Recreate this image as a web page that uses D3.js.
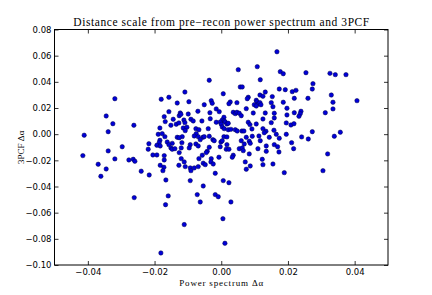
<!DOCTYPE html>
<html>
<head>
<meta charset="utf-8">
<script src="https://cdn.jsdelivr.net/npm/d3@7"></script>
<style>
  body { margin: 0; background: #fff; }
  svg { display: block; }
</style>
</head>
<body>
<script>
// power spectrum delta alpha
const alphaPk = [
  -0.0319, -0.0180, -0.0345, -0.0171, -0.0168, -0.0325, -0.0262, -0.0184, -0.0339, -0.0411,
  -0.0189, -0.0177, -0.0169, -0.0184, -0.0186, -0.0217, -0.0193, -0.0183, -0.0297, -0.0219,
  -0.0339, -0.0415, -0.0205, -0.0193, -0.0171, -0.0319, -0.0277, -0.0264, -0.0259, -0.0171,
  -0.0369, -0.0183, -0.0172, -0.0345, -0.0175, -0.0240, -0.0361, -0.0216, -0.0166, -0.0261,
  0.0051, 0.0108, -0.0036, 0.0117, 0.0057, 0.0063, -0.0109, 0.0006, 0.0132, -0.0157,
  0.0116, 0.0125, 0.0153, 0.0081, 0.0078, 0.0105, -0.0132, -0.0097, -0.0030, -0.0027,
  0.0027, 0.0047, 0.0023, -0.0051, 0.0107, 0.0111, 0.0099, 0.0105, 0.0116, 0.0119,
  0.0150, 0.0155, -0.0015, 0.0075, -0.0157, -0.0123, -0.0070, -0.0034, -0.0006, 0.0036,
  0.0042, 0.0047, 0.0054, 0.0060, 0.0096, 0.0132, 0.0159, -0.0144, -0.0126, -0.0121,
  -0.0099, -0.0033, 0.0008, 0.0003, 0.0009, 0.0125, 0.0159, -0.0135, -0.0127, -0.0112,
  -0.0109, -0.0091, -0.0084, -0.0058, -0.0015, -0.0003, 0.0000, 0.0012, 0.0017, 0.0021,
  0.0081, 0.0086, 0.0105, 0.0150, -0.0151, -0.0114, -0.0103, -0.0108, -0.0076, -0.0067,
  -0.0039, 0.0003, 0.0009, 0.0021, 0.0029, 0.0042, 0.0048, 0.0062, 0.0068, 0.0092,
  0.0125, 0.0134, 0.0129, 0.0158, -0.0075, -0.0081, -0.0069, -0.0117, -0.0132, -0.0126,
  -0.0055, -0.0051, 0.0008, 0.0017, -0.0036, 0.0075, 0.0093, 0.0113, 0.0144,
  -0.0162, -0.0147, -0.0157, -0.0151, -0.0147, -0.0139, -0.0118, -0.0120, -0.0093, -0.0096,
  -0.0076, -0.0069, -0.0063, -0.0025, -0.0021, -0.0001, 0.0003, -0.0003, 0.0017, 0.0015,
  0.0023, -0.0036, -0.0042, -0.0045, -0.0057, 0.0060, 0.0069, 0.0054, 0.0063, 0.0066,
  0.0084, 0.0087, 0.0117, 0.0135, 0.0135, 0.0110, 0.0159, -0.0126, -0.0120, -0.0111,
  -0.0067, -0.0030, -0.0031, -0.0007, 0.0036, 0.0033, 0.0084, 0.0072, 0.0123, -0.0127,
  -0.0108, -0.0093, -0.0091, -0.0081, -0.0069, -0.0054, -0.0048, -0.0024, 0.0087, 0.0075,
  0.0125, 0.0155, -0.0018, -0.0093, 0.0006, 0.0023, -0.0054, -0.0159, -0.0072, -0.0018,
  -0.0009, -0.0063, 0.0029, -0.0167, 0.0005, -0.0111,
  0.0167, 0.0177, 0.0186, 0.0254, 0.0326, 0.0342, 0.0374, 0.0275, 0.0273, 0.0174,
  0.0192, 0.0213, 0.0224, 0.0330, 0.0260, 0.0219, 0.0186, 0.0335, 0.0407, 0.0197,
  0.0335, 0.0219, 0.0239, 0.0237, 0.0233, 0.0312, 0.0197, 0.0195, 0.0209, 0.0218,
  0.0273, 0.0357, 0.0165, 0.0195, 0.0241, 0.0261, 0.0339, 0.0174,
  0.0169, 0.0173, 0.0211, 0.0217, 0.0319, 0.0189, 0.0305,
  0.0011, -0.0181
];

// 3PCF delta alpha, same order
const alpha3pcf = [
  0.0271, 0.0267, 0.0139, 0.0134, 0.0096, 0.0080, 0.0068, 0.0047, 0.0019, -0.0008,
  -0.0001, 0.0004, -0.0019, -0.0047, -0.0065, -0.0073, -0.0085, -0.0090, -0.0096, -0.0115,
  -0.0128, -0.0164, -0.0159, -0.0159, -0.0164, -0.0189, -0.0197, -0.0192, -0.0207, -0.0197,
  -0.0230, -0.0238, -0.0253, -0.0266, -0.0279, -0.0283, -0.0322, -0.0312, -0.0350, -0.0485,
  0.0493, 0.0516, 0.0412, 0.0416, 0.0361, 0.0361, 0.0322, 0.0309, 0.0322, 0.0282,
  0.0299, 0.0290, 0.0287, 0.0282, 0.0271, 0.0259, 0.0238, 0.0248, 0.0256, 0.0236,
  0.0246, 0.0241, 0.0233, 0.0225, 0.0248, 0.0231, 0.0225, 0.0215, 0.0241, 0.0225,
  0.0241, 0.0210, 0.0193, 0.0195, 0.0172, 0.0162, 0.0175, 0.0164, 0.0172, 0.0167,
  0.0157, 0.0167, 0.0160, 0.0141, 0.0162, 0.0162, 0.0160, 0.0114, 0.0141, 0.0152,
  0.0154, 0.0118, 0.0129, 0.0108, 0.0101, 0.0116, 0.0124, 0.0076, 0.0086, 0.0108,
  0.0088, 0.0114, 0.0101, 0.0101, 0.0091, 0.0093, 0.0076, 0.0093, 0.0078, 0.0083,
  0.0091, 0.0073, 0.0078, 0.0088, 0.0068, 0.0047, 0.0053, 0.0027, 0.0042, 0.0034,
  0.0042, 0.0055, 0.0042, 0.0034, 0.0037, 0.0034, 0.0024, 0.0024, 0.0024, 0.0040,
  0.0042, 0.0022, 0.0011, 0.0030, 0.0004, -0.0014, -0.0019, -0.0019, -0.0024, -0.0027,
  -0.0024, -0.0019, -0.0019, -0.0021, -0.0016, -0.0024, -0.0016, -0.0014, -0.0024,
  -0.0060, -0.0070, -0.0080, -0.0105, -0.0115, -0.0111, -0.0065, -0.0105, -0.0080, -0.0105,
  -0.0075, -0.0090, -0.0042, -0.0042, -0.0050, -0.0060, -0.0050, -0.0096, -0.0080, -0.0115,
  -0.0115, -0.0100, -0.0131, -0.0141, -0.0161, -0.0050, -0.0075, -0.0111, -0.0105, -0.0126,
  -0.0054, -0.0070, -0.0050, -0.0090, -0.0131, -0.0111, -0.0080, -0.0141, -0.0187, -0.0212,
  -0.0187, -0.0187, -0.0212, -0.0176, -0.0161, -0.0176, -0.0151, -0.0212, -0.0192, -0.0238,
  -0.0248, -0.0258, -0.0279, -0.0258, -0.0248, -0.0222, -0.0233, -0.0228, -0.0243, -0.0268,
  -0.0233, -0.0228, -0.0299, -0.0355, -0.0355, -0.0371, -0.0396, -0.0472, -0.0462, -0.0462,
  -0.0478, -0.0518, -0.0518, -0.0539, -0.0646, -0.0691,
  0.0630, 0.0478, 0.0462, 0.0470, 0.0465, 0.0455, 0.0455, 0.0386, 0.0345, 0.0345,
  0.0340, 0.0325, 0.0335, 0.0299, 0.0274, 0.0274, 0.0244, 0.0244, 0.0256, 0.0198,
  0.0193, 0.0164, 0.0175, 0.0157, 0.0137, 0.0164, 0.0147, 0.0086, 0.0070, 0.0080,
  0.0019, 0.0015, -0.0001, -0.0001, -0.0021, -0.0037, -0.0016, -0.0031,
  -0.0096, -0.0136, -0.0065, -0.0111, -0.0151, -0.0294, -0.0279,
  -0.0834, -0.0908
];

const xTicks = [-0.04, -0.02, 0.00, 0.02, 0.04];
const yTicks = [-0.10, -0.08, -0.06, -0.04, -0.02, 0.00, 0.02, 0.04, 0.06, 0.08];

const W = 432, H = 295;
const mLeft = 54.5, mRight = 388, mTop = 29.5, mBottom = 265;

const svg = d3.select("body").append("svg")
  .attr("width", W)
  .attr("height", H);

const x = d3.scaleLinear().domain([-0.05, 0.05]).range([mLeft, mRight]);
const y = d3.scaleLinear().domain([-0.10, 0.08]).range([mBottom, mTop]);
const fmt = d3.format(".2f");

// dots
svg.append("g")
  .selectAll("circle")
  .data(alphaPk.map((d, i) => [d, alpha3pcf[i]]))
  .join("circle")
  .attr("cx", d => x(d[0]))
  .attr("cy", d => y(d[1]))
  .attr("r", 2.2)
  .style("fill", "#0000d8")
  .style("stroke", "#00004a")
  .style("stroke-width", 0.5);

// axes, ticks pointing inward
const tickFont = "'DejaVu Sans', sans-serif";
function styleAxis(g) {
  g.select(".domain").remove();
  g.selectAll(".tick line").attr("stroke", "#000").attr("stroke-width", 0.8);
  g.selectAll(".tick text")
    .style("font-family", tickFont)
    .style("font-size", "8.5px");
}

svg.append("g")
  .attr("transform", `translate(0,${mBottom})`)
  .call(d3.axisBottom(x).tickValues(xTicks).tickFormat(fmt).tickSizeInner(-4).tickSizeOuter(0).tickPadding(4))
  .call(styleAxis);

// top and right: ticks only
svg.append("g")
  .attr("transform", `translate(0,${mTop})`)
  .call(d3.axisTop(x).tickValues(xTicks).tickFormat("").tickSizeInner(-4).tickSizeOuter(0))
  .call(g => { styleAxis(g); g.selectAll(".tick text").remove(); });

svg.append("g")
  .attr("transform", `translate(${mLeft},0)`)
  .call(d3.axisLeft(y).tickValues(yTicks).tickFormat(fmt).tickSizeInner(-4).tickSizeOuter(0).tickPadding(3))
  .call(styleAxis);

svg.append("g")
  .attr("transform", `translate(${mRight},0)`)
  .call(d3.axisRight(y).tickValues(yTicks).tickFormat("").tickSizeInner(-4).tickSizeOuter(0))
  .call(g => { styleAxis(g); g.selectAll(".tick text").remove(); });

// frame
svg.append("rect")
  .attr("x", mLeft)
  .attr("y", mTop)
  .attr("width", mRight - mLeft)
  .attr("height", mBottom - mTop)
  .style("fill", "none")
  .style("stroke", "#000")
  .style("stroke-width", 1);

const serif = "'Liberation Serif', 'DejaVu Serif', serif";

svg.append("text")
  .attr("x", (mLeft + mRight) / 2)
  .attr("y", 26)
  .attr("text-anchor", "middle")
  .attr("textLength", 296)
  .style("font-family", serif)
  .style("font-size", "11.5px")
  .text("Distance scale from pre\u2212recon power spectrum and 3PCF");

svg.append("text")
  .attr("x", (mLeft + mRight) / 2)
  .attr("y", 286)
  .attr("text-anchor", "middle")
  .attr("textLength", 84)
  .style("font-family", serif)
  .style("font-size", "9px")
  .text("Power spectrum \u0394\u03b1");

svg.append("text")
  .attr("transform", `translate(24,${(mTop + mBottom) / 2}) rotate(-90)`)
  .attr("text-anchor", "middle")
  .style("font-family", serif)
  .style("font-size", "9px")
  .text("3PCF \u0394\u03b1");
</script>
</body>
</html>
